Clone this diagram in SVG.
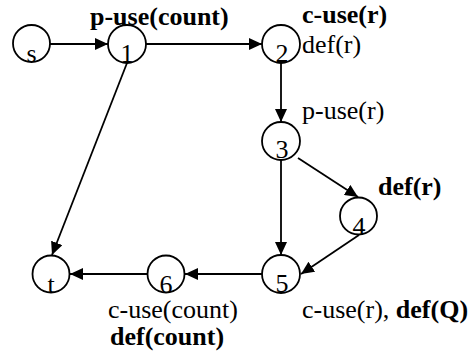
<svg xmlns="http://www.w3.org/2000/svg" width="473" height="362" viewBox="0 0 473 362">
<defs>
<marker id="arr" markerUnits="userSpaceOnUse" markerWidth="14" markerHeight="12" refX="13" refY="6" orient="auto">
<path d="M0,0 L13,6 L0,12 z" fill="#000"/>
</marker>
<style>
.n{fill:#fff;stroke:#000;stroke-width:1.8}
.e{stroke:#000;stroke-width:1.8;fill:none;marker-end:url(#arr)}
text{font-family:"Liberation Serif","Times New Roman",serif;font-size:26px;fill:#000}
.c{text-anchor:middle}
.b{font-weight:bold}
</style>
</defs>
<rect width="473" height="362" fill="#fff"/>
<g id="edges">
<line class="e" x1="50" y1="44" x2="108" y2="44"/>
<line class="e" x1="146" y1="44" x2="262" y2="44"/>
<line class="e" x1="281" y1="63" x2="281" y2="122"/>
<line class="e" x1="298" y1="158" x2="358" y2="197"/>
<line class="e" x1="281" y1="160" x2="281" y2="255"/>
<line class="e" x1="359" y1="235" x2="301" y2="274"/>
<line class="e" x1="262" y1="274" x2="185" y2="274"/>
<line class="e" x1="147" y1="274" x2="70" y2="274"/>
<line class="e" x1="127" y1="63" x2="52" y2="255"/>
</g>
<g id="node-s"><circle class="n" cx="31.5" cy="43.5" r="18.5"/><text class="c" x="31.5" y="62">s</text></g>
<g id="node-1"><circle class="n" cx="127" cy="44" r="19"/><text class="c" x="127" y="62">1</text></g>
<g id="node-2"><circle class="n" cx="281" cy="44" r="19"/><text class="c" x="282" y="62">2</text></g>
<g id="node-3"><circle class="n" cx="281" cy="141" r="19"/><text class="c" x="282" y="158">3</text></g>
<g id="node-4"><circle class="n" cx="358.5" cy="216" r="18.5"/><text class="c" x="359" y="235">4</text></g>
<g id="node-5"><circle class="n" cx="281" cy="274" r="19"/><text class="c" x="282" y="292">5</text></g>
<g id="node-6"><circle class="n" cx="166" cy="274" r="18.5"/><text class="c" x="166" y="293">6</text></g>
<g id="node-t"><circle class="n" cx="51" cy="274" r="18.5"/><text class="c" x="51" y="293">t</text></g>
<g id="labels">
<text class="b" x="90" y="25">p-use(count)</text>
<text class="b" x="302" y="23">c-use(r)</text>
<text x="302" y="53">def(r)</text>
<text x="302" y="119">p-use(r)</text>
<text class="b" x="378" y="195">def(r)</text>
<text x="302" y="318">c-use(r), <tspan class="b">def(Q)</tspan></text>
<text x="108" y="318">c-use(count)</text>
<text class="b" x="110" y="345">def(count)</text>
</g>
</svg>
